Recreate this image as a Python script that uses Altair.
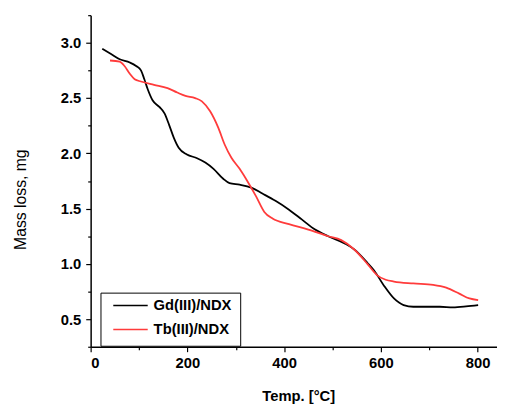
import altair as alt
import pandas as pd

gd_T = [24, 43, 60, 81, 94, 104, 111, 118, 128, 142, 153, 162, 172, 182, 199, 220, 237, 254, 274, 287, 308, 332, 355, 382, 410, 437, 464, 491, 525, 545, 572, 586, 606, 627, 647, 667, 722, 749, 776, 801]
gd_m = [2.947, 2.896, 2.851, 2.822, 2.79, 2.75, 2.67, 2.58, 2.48, 2.42, 2.36, 2.26, 2.14, 2.05, 1.99, 1.956, 1.917, 1.86, 1.77, 1.73, 1.716, 1.69, 1.636, 1.57, 1.49, 1.40, 1.31, 1.25, 1.185, 1.13, 1.01, 0.94, 0.805, 0.687, 0.627, 0.612, 0.612, 0.607, 0.615, 0.627]

tb_T = [40, 60, 70, 81, 91, 104, 131, 159, 179, 196, 216, 230, 247, 264, 277, 291, 308, 321, 342, 359, 376, 410, 450, 491, 518, 545, 572, 593, 610, 627, 667, 708, 735, 762, 783, 801]
tb_m = [2.84, 2.83, 2.79, 2.72, 2.67, 2.65, 2.62, 2.59, 2.55, 2.52, 2.50, 2.47, 2.38, 2.23, 2.08, 1.96, 1.86, 1.77, 1.61, 1.47, 1.41, 1.36, 1.31, 1.25, 1.215, 1.13, 1.00, 0.894, 0.856, 0.84, 0.823, 0.81, 0.785, 0.731, 0.687, 0.672]

series = ["Gd(III)/NDX", "Tb(III)/NDX"]
colors = ["#000000", "#ff3b3b"]

x_ticks = [0, 100, 200, 300, 400, 500, 600, 700, 800]
y_ticks = [0.25, 0.5, 0.75, 1.0, 1.25, 1.5, 1.75, 2.0, 2.25, 2.5, 2.75, 3.0, 3.25]

df = pd.concat([
    pd.DataFrame({"T": gd_T, "m": gd_m, "s": series[0], "o": range(len(gd_T))}),
    pd.DataFrame({"T": tb_T, "m": tb_m, "s": series[1], "o": range(len(tb_T))}),
])

FONT = "Liberation Sans"

chart = alt.Chart(df).mark_line(interpolate="monotone", strokeWidth=1.8).encode(
    x=alt.X("T:Q", scale=alt.Scale(domain=[0, 840], nice=False, zero=False),
            axis=alt.Axis(values=x_ticks, title="Temp. [°C]", grid=False,
                          labelExpr="datum.value % 200 === 0 ? datum.label : ''",
                          tickSize={"condition": {"test": "datum.value % 200 === 0", "value": 5}, "value": 3},
                          labelPadding=4, titleX=211, titleY=43,
                          titleFontWeight="bold", titleFontSize=15)),
    y=alt.Y("m:Q", scale=alt.Scale(domain=[0.25, 3.25], nice=False, zero=False),
            axis=alt.Axis(values=y_ticks, title="Mass loss, mg", grid=False, format=".1f",
                          labelExpr="round(datum.value * 4) % 2 === 0 ? datum.label : ''",
                          tickSize={"condition": {"test": "round(datum.value * 4) % 2 === 0", "value": 5}, "value": 3},
                          labelPadding=5, titleX=-63, titleY=187,
                          titleFontWeight="normal", titleFontSize=16)),
    color=alt.Color("s:N", scale=alt.Scale(domain=series, range=colors),
                    legend=alt.Legend(title=None, orient="none", legendX=10, legendY=282,
                                      symbolType="stroke", symbolSize=1225, symbolStrokeWidth=1.6,
                                      strokeColor="black", fillColor="white", padding=8,
                                      clipHeight=10, rowPadding=9.4, symbolOffset=4,
                                      labelFontSize=15, labelFontWeight="bold", labelFont=FONT,
                                      labelColor="black", labelOffset=5)),
    order="o:Q",
).properties(
    width=413, height=337,
    autosize=alt.AutoSizeParams(type="none"),
    padding={"left": 84, "top": 4, "right": 0, "bottom": 62},
).configure_axis(
    domainColor="black", domainWidth=1.5, tickColor="black", tickWidth=1.2,
    labelFont=FONT, labelFontSize=15, labelFontWeight="bold", labelColor="black",
    titleFont=FONT, titleColor="black",
).configure_view(stroke=None)

chart.save("out.html", embed_options={"renderer": "svg", "actions": False})
